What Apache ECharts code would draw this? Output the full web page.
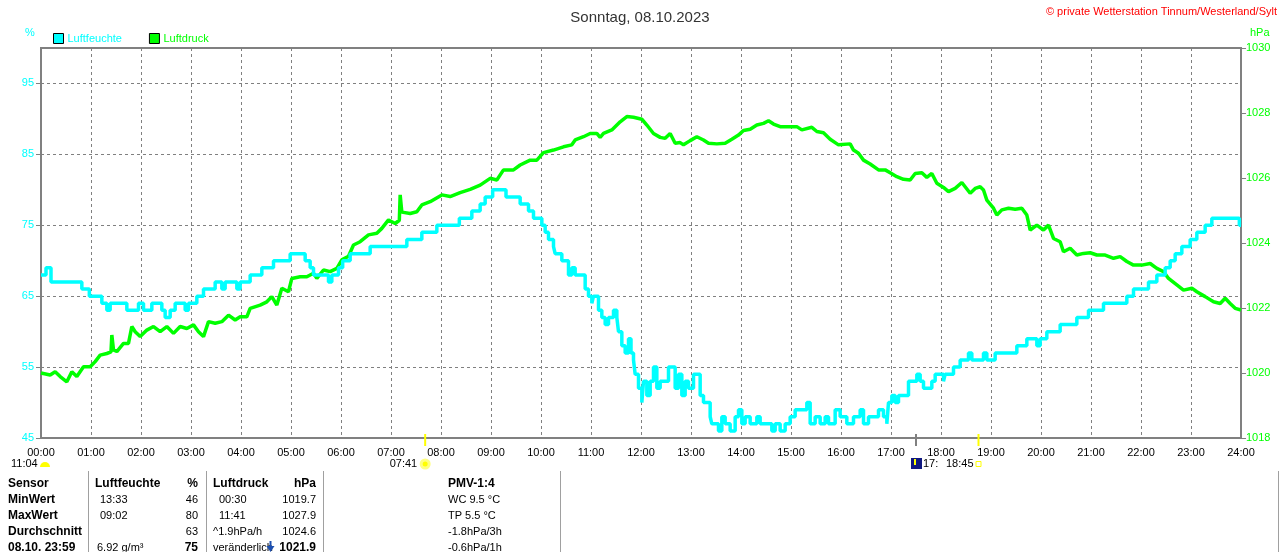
<!DOCTYPE html>
<html lang="de">
<head>
<meta charset="utf-8">
<title>Sonntag, 08.10.2023</title>
<script src="https://cdn.jsdelivr.net/npm/echarts@6.0.0/dist/echarts.min.js"></script>
<style>
html,body{margin:0;padding:0;background:#fff;}
#chart{width:1280px;height:552px;}
</style>
</head>
<body>
<div id="chart"></div>
<script>
// Minuten seit 00:00, Wert
var humidity = [
  [0,68],[6,69],[12,67],[49,66],[58,65],[73,64],[79,63],[83,64],[103,63],[117,64],[123,63],[133,64],
  [145,63],[149,62],[155,63],[161,64],[173,63],[177,64],[187,65],[195,66],[209,67],[217,66],[221,67],
  [235,66],[239,67],[251,68],[265,69],[279,70],[299,71],[317,70],[323,69],[327,68],[345,67],[349,68],
  [357,69],[362,70],[371,71],[395,72],[439,73],[457,74],[475,75],[502,76],[517,77],[527,78],[533,79],
  [542,80],[558,79],[575,78],[585,77],[591,76],[601,75],[605,74],[609,73],[615,72],[617,71],[625,70],
  [633,68],[637,69],[641,68],[653,66],[657,65],[661,64],[663,65],[669,63],[673,62],[677,61],[681,62],
  [687,63],[691,62],[693,60],[697,58],[701,57],[705,59],[708,57],[711,56],[713,54],[717,52],[721,50],
  [723,53],[727,51],[731,53],[735,55],[739,52],[743,53],[753,55],[761,52],[765,54],[769,51],[773,53],
  [777,52],[783,54],[791,51],[795,50],[803,48],[805,47],[813,46],[817,48],[821,47],[827,46],[833,48],
  [837,49],[841,47],[845,48],[851,47],[859,48],[863,47],[877,46],[881,47],[887,46],[893,47],[899,48],
  [905,49],[919,50],[923,47],[929,48],[935,47],[941,48],[945,47],[953,49],[959,48],[967,47],[975,48],
  [983,49],[987,47],[993,48],[1005,49],[1011,48],[1015,47],[1017,50],[1021,51],[1025,50],[1029,51],
  [1041,53],[1051,54],[1055,53],[1059,52],[1069,53],[1073,54],[1083,53],[1085,54],[1095,55],[1103,56],
  [1113,57],[1117,56],[1131,57],[1135,56],[1145,57],[1171,58],[1183,59],[1195,58],[1199,59],[1207,60],
  [1223,61],[1243,62],[1257,63],[1275,64],[1303,65],[1311,66],[1329,67],[1339,68],[1349,69],[1355,70],
  [1361,71],[1369,72],[1379,73],[1387,74],[1397,75],[1405,76],[1438,75],[1440,75]
];

var pressure = [
  [0,1020.0],[11,1019.94],[17,1020.04],[23,1019.89],[31,1019.73],[37,1020.04],[43,1019.89],[51,1020.19],
  [59,1020.19],[65,1020.35],[71,1020.55],[79,1020.6],[84,1020.65],[85,1021.17],[87,1020.71],[91,1020.66],
  [99,1020.91],[105,1020.91],[109,1021.43],[113,1021.27],[119,1021.12],[127,1021.32],[135,1021.43],
  [143,1021.27],[151,1021.43],[159,1021.22],[167,1021.43],[175,1021.37],[183,1021.48],[189,1021.27],
  [195,1021.12],[201,1021.58],[209,1021.53],[217,1021.58],[225,1021.78],[233,1021.63],[239,1021.73],
  [247,1021.73],[251,1021.99],[263,1022.09],[271,1022.19],[277,1022.35],[283,1022.09],[289,1022.61],
  [297,1022.5],[301,1022.91],[311,1022.96],[319,1022.96],[327,1023.07],[331,1022.91],[339,1023.17],
  [347,1023.12],[355,1023.22],[361,1023.48],[369,1023.59],[375,1023.94],[383,1024.04],[393,1024.25],
  [403,1024.3],[409,1024.45],[417,1024.71],[425,1024.6],[430,1024.7],[431,1025.48],[433,1024.95],
  [443,1024.91],[451,1024.96],[457,1025.17],
  [467,1025.27],[481,1025.48],[491,1025.43],[503,1025.55],[515,1025.65],[527,1025.78],[539,1025.99],
  [547,1025.94],[555,1026.25],[567,1026.25],[575,1026.4],[587,1026.55],[595,1026.55],[603,1026.78],
  [615,1026.86],[627,1026.96],[637,1027.02],[641,1027.17],[651,1027.27],[659,1027.37],[667,1027.37],
  [671,1027.25],[675,1027.37],[685,1027.48],[695,1027.73],[703,1027.89],[711,1027.87],[721,1027.81],
  [727,1027.63],[735,1027.37],[743,1027.25],[749,1027.22],[755,1027.37],[761,1027.07],[767,1027.09],
  [771,1027.02],[779,1027.15],[787,1027.27],[795,1027.17],[801,1027.07],[811,1027.05],[821,1027.07],
  [829,1027.19],[837,1027.32],[843,1027.46],[851,1027.5],[859,1027.63],[867,1027.68],[873,1027.76],
  [879,1027.66],[887,1027.58],[895,1027.58],[907,1027.58],[913,1027.48],[925,1027.56],[931,1027.43],
  [939,1027.39],[947,1027.19],[957,1027.02],
  [959,1027.07],[971,1027.05],[975,1026.86],[981,1026.76],[987,1026.55],[995,1026.43],[1005,1026.25],
  [1013,1026.25],[1019,1026.16],[1027,1026.04],[1035,1025.96],[1043,1025.94],[1049,1026.14],[1057,1026.16],
  [1063,1026.02],[1069,1026.14],[1075,1025.84],[1083,1025.71],[1089,1025.58],[1097,1025.68],[1105,1025.86],
  [1115,1025.53],[1121,1025.68],[1127,1025.73],[1131,1025.63],[1135,1025.32],[1143,1025.07],[1147,1024.86],
  [1153,1025.02],[1161,1025.07],[1169,1025.04],[1177,1025.07],[1183,1024.86],[1187,1024.4],[1195,1024.55],
  [1203,1024.4],[1209,1024.55],[1215,1024.14],[1223,1024.04],[1227,1023.73],[1235,1023.84],[1243,1023.63],
  [1251,1023.68],[1259,1023.7],[1267,1023.63],[1277,1023.63],[1287,1023.53],[1295,1023.58],[1303,1023.43],
  [1311,1023.32],[1321,1023.32],[1331,1023.37],[1339,1023.22],[1347,1023.12],[1353,1022.91],[1363,1022.71],
  [1371,1022.55],[1381,1022.61],[1387,1022.5],[1397,1022.35],[1407,1022.19],[1415,1022.14],[1421,1022.3],
  [1427,1022.14],[1433,1021.99],[1440,1021.94]
];

// Sonnenauf-/untergang, Mond (Minuten)
var sunrise = 461, sunset = 1125, moonMark = 1050;

// Tabelle unter dem Diagramm
var tableRows = [
  ['Sensor',       'Luftfeuchte', '%',  'Luftdruck',    'hPa',    'PMV-1:4'],
  ['MinWert',      '13:33',       '46', '00:30',        '1019.7', 'WC 9.5 °C'],
  ['MaxWert',      '09:02',       '80', '11:41',        '1027.9', 'TP 5.5 °C'],
  ['Durchschnitt', '',            '63', '^1.9hPa/h',    '1024.6', '-1.8hPa/3h'],
  ['08.10. 23:59', '6.92 g/m³',   '75', 'veränderlich', '1021.9', '-0.6hPa/1h']
];

var HUM_BASE = 45; // linke Achse beginnt bei 45 %
var FONT = '"Liberation Sans", Arial, sans-serif';
var CYAN = '#00ffff', GREEN = '#00ff00', GRAY = '#808080';

var chart = echarts.init(document.getElementById('chart'));

chart.setOption({
  animation: false,
  backgroundColor: '#fff',
  title: {
    text: 'Sonntag, 08.10.2023',
    left: 'center', top: 5,
    textStyle: {fontFamily: FONT, fontSize: 15, fontWeight: 'normal', color: '#333'}
  },
  legend: {
    left: 48, top: 28,
    icon: 'rect', itemWidth: 10, itemHeight: 10, itemGap: 27,
    itemStyle: {borderColor: '#000', borderWidth: 1},
    textStyle: {fontFamily: FONT, fontSize: 11, padding: [0, 0, 0, -1]},
    data: [
      {name: 'Luftfeuchte', textStyle: {color: CYAN}},
      {name: 'Luftdruck', textStyle: {color: GREEN}}
    ]
  },
  grid: {left: 41, right: 39, top: 48, bottom: 114, show: true, borderColor: GRAY, borderWidth: 2},
  xAxis: {
    type: 'value', min: 0, max: 1440, interval: 60,
    axisLine: {lineStyle: {color: GRAY, width: 2}},
    axisTick: {show: false},
    axisLabel: {
      color: '#000', fontFamily: FONT, fontSize: 11, margin: 9,
      formatter: function (v) { var h = v / 60; return (h < 10 ? '0' : '') + h + ':00'; }
    },
    splitLine: {show: true, lineStyle: {color: GRAY, type: [3, 3], width: 1}}
  },
  yAxis: [{
    type: 'value', min: 0, max: 100 - HUM_BASE, interval: 10,
    axisLine: {show: true, lineStyle: {color: GRAY, width: 2}},
    axisTick: {show: true, length: 5, lineStyle: {color: GRAY}},
    axisLabel: {
      color: CYAN, fontFamily: FONT, fontSize: 11, margin: 7, showMaxLabel: false,
      formatter: function (v) { return String(v + HUM_BASE); }
    },
    splitLine: {show: true, lineStyle: {color: GRAY, type: [3, 3], width: 1}}
  }, {
    type: 'value', position: 'right', min: 1018, max: 1030, interval: 2,
    axisLine: {show: true, lineStyle: {color: GRAY, width: 2}},
    axisTick: {show: true, length: 5, lineStyle: {color: GRAY}},
    axisLabel: {
      color: GREEN, fontFamily: FONT, fontSize: 11, margin: 5,
      formatter: function (v) { return String(v); }
    },
    splitLine: {show: false}
  }],
  series: [{
    name: 'Luftdruck', type: 'line', yAxisIndex: 1, z: 2,
    symbol: 'none', data: pressure,
    itemStyle: {color: GREEN},
    lineStyle: {color: GREEN, width: 3.5}
  }, {
    name: 'Luftfeuchte', type: 'line', yAxisIndex: 0, z: 3, step: 'end',
    symbol: 'none',
    data: humidity.map(function (d) { return [d[0], d[1] - HUM_BASE]; }),
    itemStyle: {color: CYAN},
    lineStyle: {color: CYAN, width: 3.5}
  }]
});

// Zusatzelemente unter der Zeitachse
var axisY = chart.convertToPixel({yAxisIndex: 1}, 1018);
var xRise = chart.convertToPixel({xAxisIndex: 0}, sunrise);
var xSet = chart.convertToPixel({xAxisIndex: 0}, sunset);
var xMoon = chart.convertToPixel({xAxisIndex: 0}, moonMark);
var lblY = axisY + 26;

function txt(id, s, x, y, opts) {
  opts = opts || {};
  return {
    type: 'text', id: id, z: 10,
    style: {
      text: s, x: x, y: y,
      font: (opts.bold ? 'bold 12px ' : '11px ') + FONT,
      fill: opts.color || '#000',
      textAlign: opts.align || 'left',
      textVerticalAlign: 'middle', verticalAlign: 'middle'
    }
  };
}

var g = [];
g.push(txt('copy', '© private Wetterstation Tinnum/Westerland/Sylt', 1277, 12, {align: 'right', color: '#ff0000'}));
g.push(txt('pct', '%', 25, 33, {color: CYAN}));
g.push(txt('hpa', 'hPa', 1250, 33, {color: GREEN}));

// Marker auf der Zeitachse
g.push({type: 'rect', id: 'mRise', z: 10, shape: {x: xRise - 1, y: axisY - 4, width: 2, height: 12}, style: {fill: '#ffff00'}});
g.push({type: 'rect', id: 'mSet', z: 10, shape: {x: xSet - 1, y: axisY - 4, width: 2, height: 12}, style: {fill: '#ffff00'}});
g.push({type: 'rect', id: 'mMoon', z: 10, shape: {x: xMoon - 1, y: axisY - 4, width: 2, height: 12}, style: {fill: GRAY}});

// Tageslänge, Aufgang, Untergang
g.push(txt('dayLen', '11:04', 11, lblY));
g.push({type: 'sector', id: 'halfSun', z: 10, shape: {cx: 45, cy: lblY + 3, r: 5, startAngle: Math.PI, endAngle: Math.PI * 2}, style: {fill: '#ffff00'}});
g.push(txt('riseT', '07:41', xRise - 8, lblY, {align: 'right'}));
g.push({type: 'circle', id: 'sun', z: 10, shape: {cx: xRise, cy: lblY, r: 4}, style: {fill: '#ffff00', stroke: '#ffff80', lineWidth: 3}});
g.push({type: 'rect', id: 'moonIcon', z: 10, shape: {x: xMoon - 5, y: lblY - 6, width: 11, height: 11}, style: {fill: '#101880'}});
g.push({type: 'rect', id: 'moonSym', z: 11, shape: {x: xMoon - 2, y: lblY - 5, width: 2, height: 6}, style: {fill: '#ffff00'}});
g.push(txt('moonT', '17:', xMoon + 7, lblY));
g.push(txt('setT', '18:45', xSet - 5, lblY, {align: 'right'}));
g.push({type: 'rect', id: 'setIcon', z: 10, shape: {x: xSet - 2.5, y: lblY - 2.5, width: 5, height: 5}, style: {fill: 'none', stroke: '#ffff00', lineWidth: 1}});

// Tabelle
var sepX = [88, 206, 323, 560, 1278];
sepX.forEach(function (x, i) {
  g.push({type: 'line', id: 'sep' + i, z: 10, shape: {x1: x + 0.5, y1: 471, x2: x + 0.5, y2: 552}, style: {stroke: '#a0a0a0', lineWidth: 1}});
});
var colX = [8, 100, 198, 219, 316, 448];
var colAlign = ['left', 'left', 'right', 'left', 'right', 'left'];
tableRows.forEach(function (row, r) {
  var y = 484 + r * 16;
  row.forEach(function (cell, c) {
    if (!cell) return;
    var bold = r === 0 || c === 0 || (r === 4 && (c === 2 || c === 4));
    var x = colX[c];
    if (r === 0 && c === 1) x = 95;
    if (c === 3 && (r === 0 || r >= 3)) x = 213;
    if (r === 4 && c === 1) x = 97;
    g.push(txt('t' + r + '_' + c, cell, x, y, {bold: bold, align: colAlign[c]}));
  });
});
// Tendenzpfeil
g.push({type: 'rect', id: 'arrowStem', z: 12, shape: {x: 269.5, y: 541, width: 2, height: 7}, style: {fill: '#1c4fb0'}});
g.push({type: 'polygon', id: 'arrowHead', z: 12, shape: {points: [[266.5, 546], [274.5, 546], [270.5, 552]]}, style: {fill: '#1c4fb0'}});

chart.setOption({graphic: {elements: g}});
</script>
</body>
</html>
